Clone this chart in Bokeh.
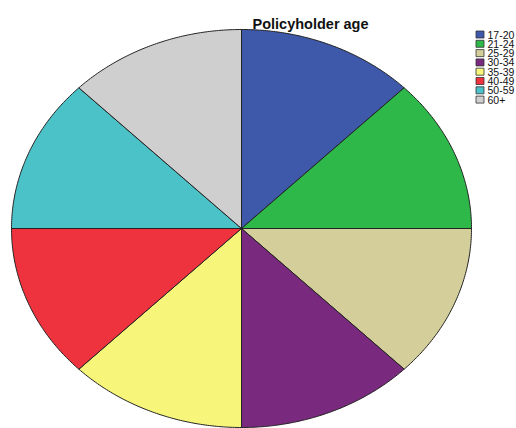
import numpy as np
from bokeh.plotting import figure
from bokeh.models import Range1d, ColumnDataSource
from bokeh.core.properties import value
from bokeh.embed import file_html
from bokeh.resources import INLINE

title_text = "Policyholder age"
categories = ["17-20", "21-24", "25-29", "30-34", "35-39", "40-49", "50-59", "60+"]
shares = [12.5, 12.5, 12.5, 12.5, 12.5, 12.5, 12.5, 12.5]
colors = ["#3e58aa", "#2eb84a", "#d4cf9a", "#7a2a7e", "#f8f67a", "#ee333e", "#4bc2c8", "#cfcfcf"]

W, H = 516, 428
p = figure(width=W, height=H, output_backend="svg", toolbar_location=None,
           x_range=Range1d(0, W), y_range=Range1d(H, 0), min_border=0)
p.axis.visible = False
p.grid.visible = False
p.outline_line_color = None
p.background_fill_color = "white"

# ellipse geometry (data units == screen pixels)
cx, cy, rx, ry = 241, 228, 230, 199

total = sum(shares)
start = np.pi / 2
xs, ys = [], []
for s in shares:
    end = start - 2 * np.pi * s / total
    t = np.linspace(start, end, 80)
    xs.append([cx] + list(cx + rx * np.cos(t)) + [cx])
    ys.append([cy] + list(cy - ry * np.sin(t)) + [cy])
    start = end

src = ColumnDataSource(dict(xs=xs, ys=ys, color=colors, label=categories))
p.patches("xs", "ys", source=src, fill_color="color", line_color="#222222", line_width=1)

# title
p.text(x=[252], y=[23], text=[title_text], text_font=value("Liberation Sans"),
       text_font_size="14.5px", text_font_style="bold", text_baseline="alphabetic",
       text_align="left", text_color="#111111")

# legend
n = len(categories)
ly = [34 + i * 9.3 for i in range(n)]
p.rect(x=[479.5] * n, y=ly, width=8, height=7, fill_color=colors, line_color="#333333", line_width=0.8)
p.text(x=[487] * n, y=ly, text=categories, text_font=value("Liberation Sans"),
       text_font_size="10.5px", text_baseline="middle", text_align="left", text_color="#111111")

open("out.html", "w").write(file_html(p, INLINE))
